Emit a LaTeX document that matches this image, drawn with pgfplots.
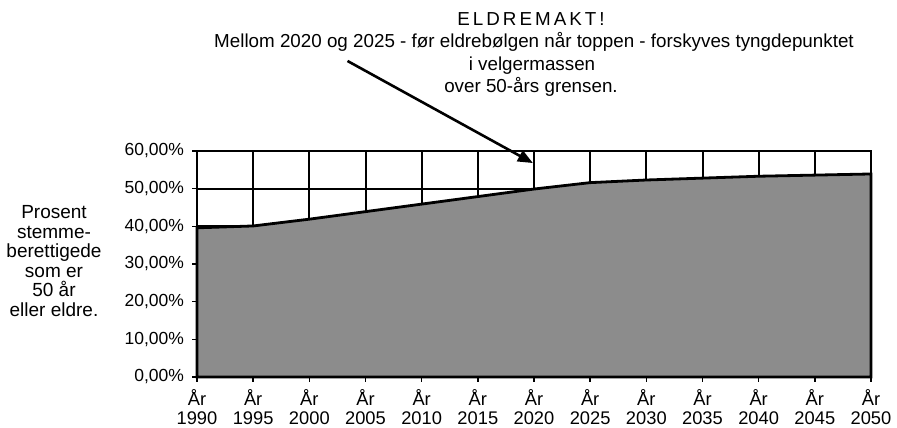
\documentclass[border=0pt]{standalone}
\usepackage{pgfplots}
\pgfplotsset{compat=1.18}
\usepackage{fontspec}
\setmainfont{Liberation Sans}
\usetikzlibrary{arrows.meta}
\begin{document}
\fontsize{17.5}{20}\selectfont
\begin{tikzpicture}[x=1pt,y=1pt]
\useasboundingbox (0,0) rectangle (897,428);
\begin{axis}[
  at={(197pt,51pt)}, anchor=south west,
  scale only axis, width=674pt, height=226pt,
  xmin=1990, xmax=2050, ymin=0, ymax=60,
  clip=false,
  xtick={1990,1995,...,2050},
  xticklabels={{År\\1990},{År\\1995},{År\\2000},{År\\2005},{År\\2010},{År\\2015},{År\\2020},{År\\2025},{År\\2030},{År\\2035},{År\\2040},{År\\2045},{År\\2050}},
  ytick={0,10,...,60},
  yticklabels={{0,00\%},{10,00\%},{20,00\%},{30,00\%},{40,00\%},{50,00\%},{60,00\%}},
  xticklabel style={align=center, font=\fontsize{18.3}{19.5}\selectfont, yshift=-1pt},
  yticklabel style={font=\fontsize{17.5}{20}\selectfont, xshift=-2pt},
  xtick pos=left, ytick pos=left,
  tick align=outside, major tick length=5pt,
  tick style={black, line width=1.5pt},
  grid=major,
  major grid style={black, line width=2pt},
  axis line style={line width=2.8pt},
]
\addplot[draw=black, line width=2.8pt, fill=black!45] coordinates {
  (1990,39.6) (1995,40.1) (2000,41.9) (2005,43.9) (2010,45.9) (2015,47.9)
  (2020,49.9) (2025,51.6) (2030,52.3) (2035,52.8) (2040,53.3) (2045,53.6) (2050,53.9)
} \closedcycle;
\draw[line width=2.8pt] (axis cs:1990,60) -- (axis cs:1990,0) -- (axis cs:2050,0) -- (axis cs:2050,60);
\draw[line width=2.6pt, -{Triangle[length=15pt,width=12pt]}] (axis cs:2003.4,83.9) -- (axis cs:2019.9,56.8);
\end{axis}
\begin{scope}[font=\fontsize{18.8}{20}\selectfont]
\node[anchor=base] at (531,402) {\addfontfeature{LetterSpace=16}ELDREMAKT!};
\node[anchor=base] at (534,380) {Mellom 2020 og 2025 - før eldrebølgen når toppen - forskyves tyngdepunktet};
\node[anchor=base] at (532,357) {i velgermassen};
\node[anchor=base] at (531,335) {over 50-års grensen.};
\end{scope}
\begin{scope}[font=\fontsize{19}{20}\selectfont]
\node[anchor=base] at (54,209) {Prosent};
\node[anchor=base] at (54,189.4) {stemme-};
\node[anchor=base] at (54,170) {berettigede};
\node[anchor=base] at (54,150) {som er};
\node[anchor=base] at (54,131) {50 år};
\node[anchor=base] at (54,111) {eller eldre.};
\end{scope}
\end{tikzpicture}
\end{document}
